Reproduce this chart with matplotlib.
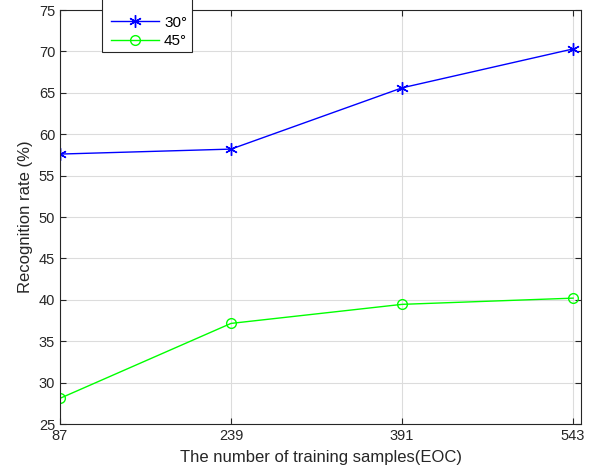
import numpy as np
import matplotlib
matplotlib.use('Agg')
import matplotlib.pyplot as plt
from matplotlib.patches import Rectangle

plt.rcParams['font.family'] = ['Liberation Sans', 'DejaVu Sans']

samples = [87, 239, 391, 543]
rate_30 = [57.6, 58.2, 65.6, 70.3]
rate_45 = [28.1, 37.15, 39.45, 40.2]
labels = ['30°', '45°']

W, H = 596, 472
fig = plt.figure(figsize=(W/100, H/100), dpi=100)
ax = fig.add_axes([60/W, 48/H, 521/W, 414/H])

ax.plot(samples, rate_30, color='#0000ff', lw=1.0, marker=(6, 2, 0),
        ms=9, mew=1.0, label=labels[0])
ax.plot(samples, rate_45, color='#00ff00', lw=1.0, marker='o', mfc='none',
        ms=7, mew=1.0, label=labels[1])

ax.set_xlim(87, 550)
ax.set_ylim(25, 75)
ax.set_xticks(samples)
ax.set_yticks(np.arange(25, 76, 5))
ax.grid(True, color='#dcdcdc', lw=0.8)
ax.set_axisbelow(True)
ax.tick_params(direction='in', top=True, right=True, labelsize=10.5,
               colors='#262626', length=4)
for s in ax.spines.values():
    s.set_color('#262626')
    s.set_linewidth(0.8)

ax.set_xlabel('The number of training samples(EOC)', fontsize=12, color='#262626', labelpad=5)
ax.set_ylabel('Recognition rate (%)', fontsize=12, color='#262626', labelpad=4)

# legend box sticks out over the top of the figure, as in the original
box = Rectangle((102/W, (H - 52)/H), 90/W, 60/H, transform=fig.transFigure,
                facecolor='white', edgecolor='#262626', lw=0.8,
                clip_on=False, zorder=4)
ax.add_patch(box)
leg = ax.legend(loc='upper left', bbox_to_anchor=(106/W, (H - 11)/H),
                bbox_transform=fig.transFigure, fontsize=11, frameon=False,
                handlelength=3.2, borderpad=0.3, labelspacing=0.3,
                handletextpad=0.3, borderaxespad=0)
leg.set_zorder(5)

fig.savefig('out.png', dpi=100)
